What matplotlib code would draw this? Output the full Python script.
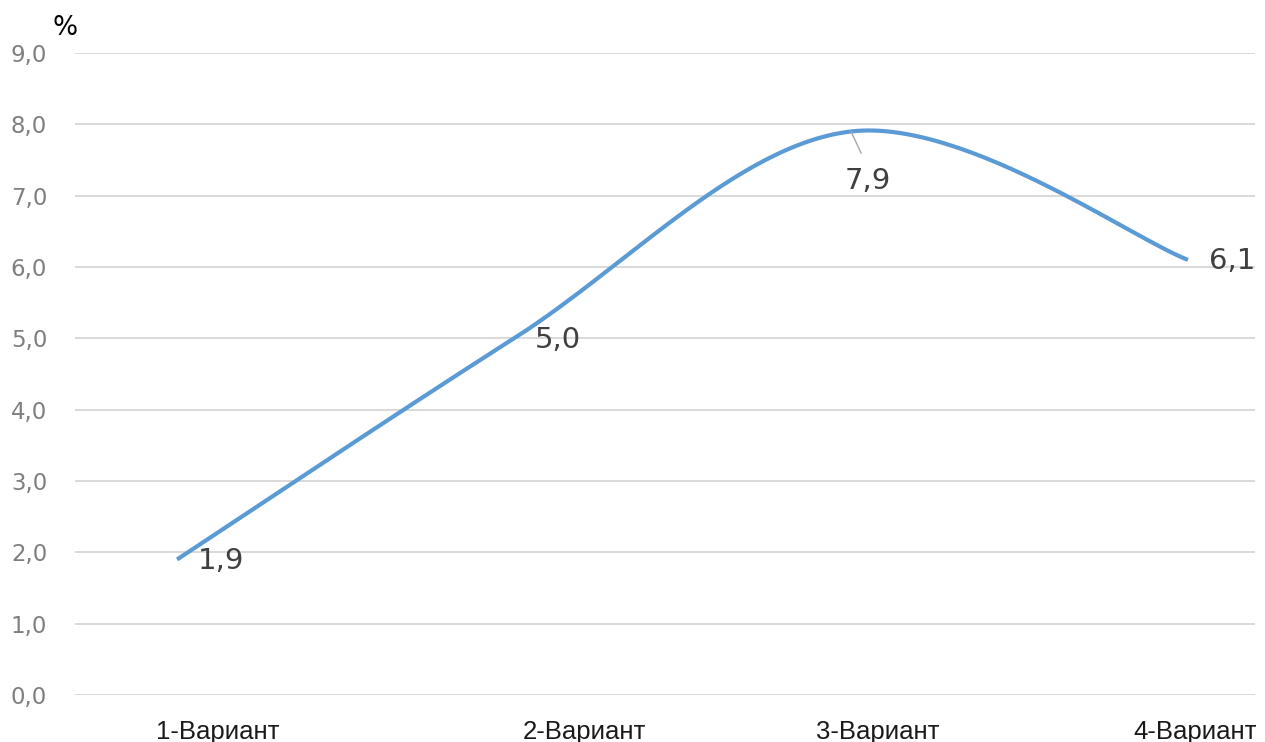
import numpy as np
import matplotlib
matplotlib.use("Agg")
import matplotlib.pyplot as plt

categories = ["1-Вариант", "2-Вариант", "3-Вариант", "4-Вариант"]
values = [1.9, 5.0, 7.9, 6.1]
y_ticks = [0, 1, 2, 3, 4, 5, 6, 7, 8, 9]
unit_label = "%"

LINE_COLOR = "#5b9bd5"
GRID_COLOR = "#d9d9d9"


def smooth_curve(xs, ys, steps=60, tension=1 / 6.0):
    """Bezier smoothing through the given points (end points repeated)."""
    pts = np.column_stack([xs, ys]).astype(float)
    ext = np.vstack([pts[0], pts, pts[-1]])
    out = []
    for i in range(1, len(ext) - 2):
        p0, p1, p2, p3 = ext[i - 1], ext[i], ext[i + 1], ext[i + 2]
        c1 = p1 + (p2 - p0) * tension
        c2 = p2 - (p3 - p1) * tension
        t = np.linspace(0, 1, steps)[:, None]
        seg = ((1 - t) ** 3) * p1 + 3 * ((1 - t) ** 2) * t * c1 + 3 * (1 - t) * t ** 2 * c2 + t ** 3 * p2
        out.append(seg if i == 1 else seg[1:])
    out = np.vstack(out)
    return out[:, 0], out[:, 1]


fig = plt.figure(figsize=(12.65, 7.42), dpi=100)
ax = fig.add_axes([75 / 1265, 47 / 742, 1180 / 1265, 642 / 742])

x = np.arange(len(values))
sx, sy = smooth_curve(x, values)
ax.plot(sx, sy, color=LINE_COLOR, lw=3.0, solid_capstyle="butt", zorder=3, clip_on=False)

ax.set_xlim(-0.303, 3.199)
ax.set_ylim(0, 9)

# grid
ax.set_yticks(y_ticks)
ax.set_yticklabels([f"{v:.1f}".replace(".", ",") for v in y_ticks],
                   fontsize=16.5, color="#7f7f7f", family="DejaVu Sans")
ax.yaxis.grid(True, color=GRID_COLOR, lw=1.4)
ax.set_axisbelow(True)
ax.tick_params(axis="y", length=0, pad=20)

# category labels
label_shift = [0.12, 0.21, 0.08, 0.02]
ax.set_xticks(x + np.array(label_shift))
ax.set_xticklabels(categories, fontsize=18.5, color="#1a1a1a", family="Liberation Sans")
ax.tick_params(axis="x", length=0, pad=18)

for s in ax.spines.values():
    s.set_visible(False)

# data labels
data_font = dict(fontsize=21, color="#404040", family="DejaVu Sans", va="center")
for i, v in enumerate(values):
    txt = f"{v:.1f}".replace(".", ",")
    if i == 2:
        ax.annotate(txt, xy=(i, v), xytext=(i + 0.05, v - 0.7), ha="center",
                    arrowprops=dict(arrowstyle="-", color="#a6a6a6", lw=1.0,
                                    relpos=(0.5, 1.0), shrinkA=9, shrinkB=0),
                    **data_font)
    else:
        ax.annotate(txt, xy=(i, v), xytext=(15, -1), textcoords="offset points",
                    ha="left", **data_font)

fig.text(53 / 1265, 1 - 28 / 742, unit_label, fontsize=19, color="#000000",
         family="DejaVu Sans", ha="left", va="center")

fig.savefig("out.png", dpi=100, facecolor="white")
